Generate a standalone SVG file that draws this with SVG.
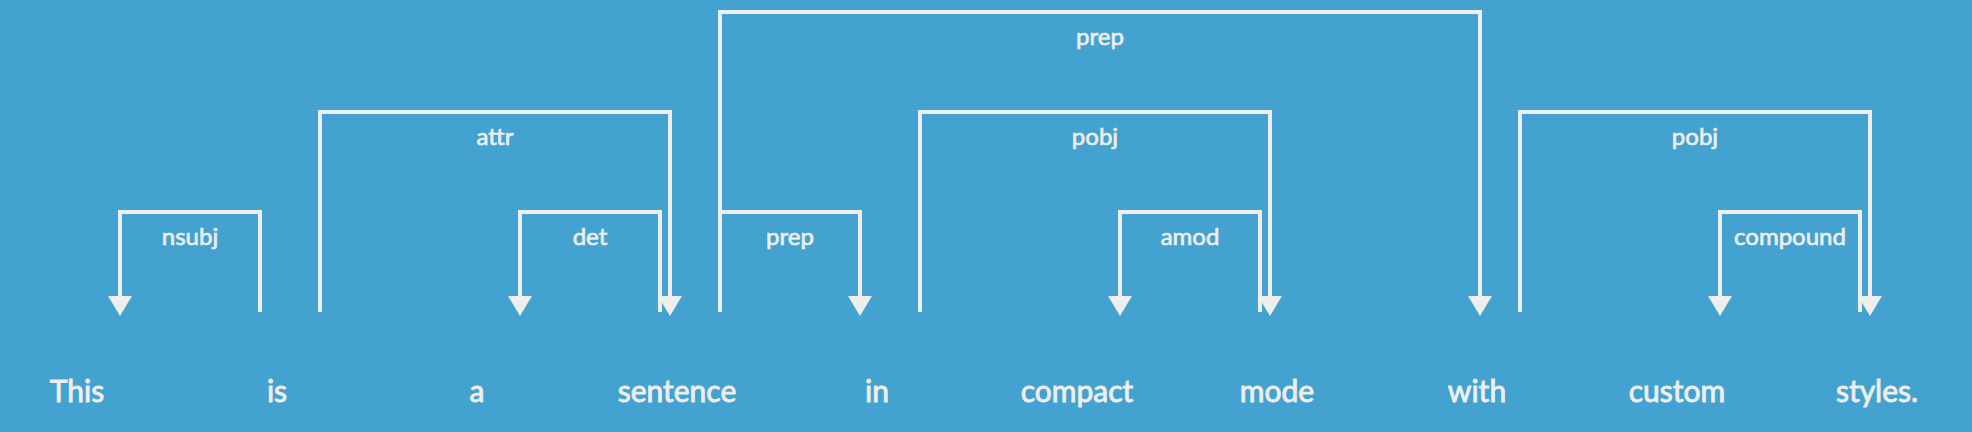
<svg xmlns="http://www.w3.org/2000/svg" xmlns:xlink="http://www.w3.org/1999/xlink" width="1972" height="432" viewBox="0 0 1972 432">
<style>
.arc{fill:none;stroke:#eeeeee;stroke-width:4;stroke-linejoin:miter;stroke-linecap:butt}
.ah{fill:#eeeeee}
.lbl{font-family:Lato,"Source Sans Pro","Open Sans",sans-serif;font-size:24px;fill:#eeeeee;stroke:#eeeeee;stroke-width:0.7;text-anchor:middle}
.word{font-family:Lato,"Source Sans Pro","Open Sans",sans-serif;font-size:30px;fill:#eeeeee;stroke:#eeeeee;stroke-width:0.9;text-anchor:middle}
</style>
<defs>
<path id="ah" d="M-12,0 L12,0 L0,20 Z"/>
</defs>
<rect width="1972" height="432" fill="#43a2d0"/>
<g id="connectors">
<g id="arc-nsubj">
<path class="arc" d="M260,312 V212 H120 V298"/>
<use xlink:href="#ah" class="ah" x="120" y="296"/>
<text class="lbl" x="190" y="245">nsubj</text>
</g>
<g id="arc-attr">
<path class="arc" d="M320,312 V112 H670 V298"/>
<use xlink:href="#ah" class="ah" x="670" y="296"/>
<text class="lbl" x="495" y="145">attr</text>
</g>
<g id="arc-det">
<path class="arc" d="M660,312 V212 H520 V298"/>
<use xlink:href="#ah" class="ah" x="520" y="296"/>
<text class="lbl" x="590" y="245">det</text>
</g>
<g id="arc-prep-in">
<path class="arc" d="M720,312 V212 H860 V298"/>
<use xlink:href="#ah" class="ah" x="860" y="296"/>
<text class="lbl" x="790" y="245">prep</text>
</g>
<g id="arc-prep-with">
<path class="arc" d="M720,312 V12 H1480 V298"/>
<use xlink:href="#ah" class="ah" x="1480" y="296"/>
<text class="lbl" x="1100" y="45">prep</text>
</g>
<g id="arc-pobj-mode">
<path class="arc" d="M920,312 V112 H1270 V298"/>
<use xlink:href="#ah" class="ah" x="1270" y="296"/>
<text class="lbl" x="1095" y="145">pobj</text>
</g>
<g id="arc-amod">
<path class="arc" d="M1260,312 V212 H1120 V298"/>
<use xlink:href="#ah" class="ah" x="1120" y="296"/>
<text class="lbl" x="1190" y="245">amod</text>
</g>
<g id="arc-pobj-styles">
<path class="arc" d="M1520,312 V112 H1870 V298"/>
<use xlink:href="#ah" class="ah" x="1870" y="296"/>
<text class="lbl" x="1695" y="145">pobj</text>
</g>
<g id="arc-compound">
<path class="arc" d="M1860,312 V212 H1720 V298"/>
<use xlink:href="#ah" class="ah" x="1720" y="296"/>
<text class="lbl" x="1790" y="245">compound</text>
</g>
</g>
<g id="w0"><text class="word" x="77" y="402">This</text></g>
<g id="w1"><text class="word" x="277" y="402">is</text></g>
<g id="w2"><text class="word" x="477" y="402">a</text></g>
<g id="w3"><text class="word" x="677" y="402">sentence</text></g>
<g id="w4"><text class="word" x="877" y="402">in</text></g>
<g id="w5"><text class="word" x="1077" y="402">compact</text></g>
<g id="w6"><text class="word" x="1277" y="402">mode</text></g>
<g id="w7"><text class="word" x="1477" y="402">with</text></g>
<g id="w8"><text class="word" x="1677" y="402">custom</text></g>
<g id="w9"><text class="word" x="1877" y="402">styles.</text></g>
</svg>
